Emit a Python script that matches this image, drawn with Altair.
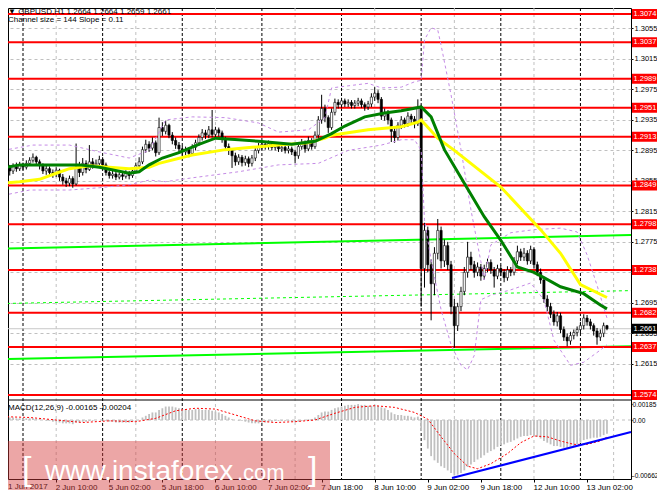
import altair as alt
import pandas as pd

# ---------------- data (hourly bars from 1 Jun 2017 18:00, index = bar number) ----------------
first_open = 1.2898
close = [
    1.2880, 1.2872, 1.2868, 1.2874, 1.2871, 1.2876, 1.2873, 1.2878, 1.2882, 1.2886,
    1.2880, 1.2875, 1.2868, 1.2871, 1.2866, 1.2864, 1.2869, 1.2860, 1.2855, 1.2852,
    1.2858, 1.2851, 1.2872, 1.2866, 1.2878, 1.2870, 1.2880, 1.2876, 1.2878, 1.2883,
    1.2876, 1.2866, 1.2862, 1.2864, 1.2860, 1.2863, 1.2861, 1.2865, 1.2862, 1.2868,
    1.2875, 1.2880, 1.2896, 1.2903, 1.2898, 1.2905, 1.2892, 1.2925, 1.2920, 1.2928,
    1.2915, 1.2908, 1.2902, 1.2897, 1.2893, 1.2896, 1.2891, 1.2899, 1.2905, 1.2912,
    1.2918, 1.2915, 1.2922, 1.2916, 1.2922, 1.2918, 1.2910, 1.2900, 1.2895, 1.2888,
    1.2880, 1.2886, 1.2879, 1.2884, 1.2878, 1.2885, 1.2895, 1.2900, 1.2903, 1.2900,
    1.2904, 1.2899, 1.2902, 1.2897, 1.2899, 1.2895, 1.2897, 1.2893, 1.2888, 1.2900,
    1.2905, 1.2897, 1.2908, 1.2900, 1.2915, 1.2935, 1.2950, 1.2938, 1.2925, 1.2945,
    1.2958, 1.2955, 1.2960, 1.2956, 1.2958, 1.2954, 1.2957, 1.2960, 1.2955, 1.2952,
    1.2956, 1.2965, 1.2970, 1.2962, 1.2940, 1.2945, 1.2935, 1.2920, 1.2912, 1.2928,
    1.2935, 1.2930, 1.2940, 1.2936, 1.2930, 1.2950, 1.2740, 1.2790, 1.2745, 1.2720,
    1.2760, 1.2790, 1.2750, 1.2770, 1.2745, 1.2690, 1.2665, 1.2690, 1.2710, 1.2735,
    1.2755, 1.2745, 1.2735, 1.2742, 1.2730, 1.2740, 1.2748, 1.2738, 1.2730, 1.2740,
    1.2735, 1.2728, 1.2738, 1.2735, 1.2750, 1.2762, 1.2755, 1.2760, 1.2750, 1.2765,
    1.2745, 1.2735, 1.2725, 1.2700, 1.2690, 1.2680, 1.2670, 1.2678, 1.2660, 1.2650,
    1.2645, 1.2652, 1.2656, 1.2660, 1.2665, 1.2675, 1.2670, 1.2665, 1.2658, 1.2650,
    1.2655, 1.2665, 1.2661,
]
high = [
    1.2915, 1.2884, 1.2876, 1.2878, 1.2879, 1.2880, 1.2879, 1.2882, 1.2886, 1.2891,
    1.2888, 1.2883, 1.2878, 1.2875, 1.2874, 1.2870, 1.2873, 1.2871, 1.2864, 1.2859,
    1.2862, 1.2861, 1.2904, 1.2880, 1.2885, 1.2882, 1.2902, 1.2885, 1.2883, 1.2888,
    1.2886, 1.2879, 1.2869, 1.2868, 1.2867, 1.2866, 1.2866, 1.2869, 1.2868, 1.2872,
    1.2879, 1.2886, 1.2900, 1.2909, 1.2907, 1.2912, 1.2908, 1.2938, 1.2932, 1.2934,
    1.2930, 1.2919, 1.2912, 1.2906, 1.2901, 1.2900, 1.2899, 1.2903, 1.2909, 1.2916,
    1.2923, 1.2922, 1.2927, 1.2948, 1.2926, 1.2925, 1.2921, 1.2913, 1.2904, 1.2898,
    1.2892, 1.2890, 1.2889, 1.2888, 1.2887, 1.2889, 1.2899, 1.2905, 1.2908, 1.2906,
    1.2908, 1.2907, 1.2906, 1.2905, 1.2903, 1.2902, 1.2901, 1.2900, 1.2896, 1.2904,
    1.2910, 1.2908, 1.2913, 1.2911, 1.2920, 1.2940, 1.2968, 1.2955, 1.2941, 1.2950,
    1.2963, 1.2962, 1.2964, 1.2963, 1.2962, 1.2961, 1.2961, 1.2964, 1.2963, 1.2958,
    1.2960, 1.2970, 1.2978, 1.2974, 1.2965, 1.2950, 1.2948, 1.2938, 1.2925, 1.2932,
    1.2940, 1.2938, 1.2945, 1.2943, 1.2940, 1.2962, 1.2955, 1.2800, 1.2795, 1.2752,
    1.2768, 1.2805, 1.2795, 1.2778, 1.2775, 1.2750, 1.2700, 1.2695, 1.2716, 1.2742,
    1.2775, 1.2762, 1.2750, 1.2748, 1.2746, 1.2745, 1.2753, 1.2752, 1.2742, 1.2745,
    1.2744, 1.2739, 1.2743, 1.2742, 1.2755, 1.2770, 1.2766, 1.2767, 1.2764, 1.2770,
    1.2768, 1.2749, 1.2740, 1.2729, 1.2705, 1.2695, 1.2685, 1.2683, 1.2682, 1.2664,
    1.2655, 1.2657, 1.2660, 1.2664, 1.2670, 1.2680, 1.2679, 1.2674, 1.2668, 1.2662,
    1.2660, 1.2669, 1.2666,
]
low = [
    1.2876, 1.2866, 1.2862, 1.2864, 1.2867, 1.2868, 1.2869, 1.2870, 1.2875, 1.2879,
    1.2876, 1.2870, 1.2864, 1.2863, 1.2861, 1.2859, 1.2860, 1.2855, 1.2850, 1.2847,
    1.2848, 1.2846, 1.2849, 1.2860, 1.2862, 1.2865, 1.2868, 1.2871, 1.2872, 1.2874,
    1.2870, 1.2862, 1.2858, 1.2858, 1.2856, 1.2857, 1.2856, 1.2858, 1.2857, 1.2859,
    1.2865, 1.2871, 1.2877, 1.2892, 1.2893, 1.2895, 1.2887, 1.2889, 1.2914, 1.2916,
    1.2911, 1.2903, 1.2897, 1.2892, 1.2888, 1.2889, 1.2886, 1.2888, 1.2895, 1.2901,
    1.2908, 1.2910, 1.2911, 1.2912, 1.2911, 1.2913, 1.2905, 1.2895, 1.2889, 1.2872,
    1.2875, 1.2876, 1.2874, 1.2875, 1.2873, 1.2874, 1.2881, 1.2891, 1.2896, 1.2896,
    1.2896, 1.2895, 1.2895, 1.2893, 1.2893, 1.2891, 1.2891, 1.2889, 1.2878, 1.2884,
    1.2896, 1.2892, 1.2894, 1.2896, 1.2897, 1.2911, 1.2930, 1.2932, 1.2918, 1.2922,
    1.2941, 1.2950, 1.2951, 1.2952, 1.2952, 1.2950, 1.2950, 1.2953, 1.2951, 1.2947,
    1.2948, 1.2952, 1.2960, 1.2957, 1.2935, 1.2934, 1.2929, 1.2906, 1.2905, 1.2908,
    1.2923, 1.2925, 1.2926, 1.2931, 1.2924, 1.2927, 1.2690, 1.2715, 1.2735, 1.2672,
    1.2705, 1.2752, 1.2740, 1.2742, 1.2738, 1.2680, 1.2636, 1.2658, 1.2684, 1.2705,
    1.2728, 1.2738, 1.2728, 1.2730, 1.2724, 1.2725, 1.2735, 1.2733, 1.2715, 1.2726,
    1.2730, 1.2722, 1.2724, 1.2730, 1.2731, 1.2746, 1.2750, 1.2750, 1.2745, 1.2746,
    1.2740, 1.2730, 1.2720, 1.2695, 1.2684, 1.2675, 1.2665, 1.2664, 1.2655, 1.2645,
    1.2638, 1.2640, 1.2647, 1.2651, 1.2655, 1.2660, 1.2665, 1.2660, 1.2652, 1.2640,
    1.2645, 1.2650, 1.2659,
]
macd = [
    0.0005, 0.0004, 0.0003, 0.0003, 0.0002, 0.0002, 0.0002, 0.0002, 0.0002, 0.0002,
    0.0001, 0.0001, 0.0000, -0.0001, -0.0001, -0.0002, -0.0002, -0.0003, -0.0004, -0.0004,
    -0.0004, -0.0005, -0.0003, -0.0003, -0.0002, -0.0002, -0.0001, -0.0001, 0.0000, 0.0000,
    0.0000, -0.0001, -0.0002, -0.0002, -0.0003, -0.0003, -0.0003, -0.0003, -0.0003, -0.0002,
    -0.0001, 0.0000, 0.0003, 0.0005, 0.0007, 0.0009, 0.0009, 0.0012, 0.0014, 0.0016,
    0.0016, 0.0016, 0.0015, 0.0014, 0.0013, 0.0013, 0.0012, 0.0012, 0.0013, 0.0013,
    0.0012, 0.0012, 0.0012, 0.0011, 0.0010, 0.0009, 0.0007, 0.0005, 0.0003, 0.0001,
    0.0000, -0.0001, -0.0001, -0.0002, -0.0003, -0.0004, -0.0004, -0.0004, -0.0003, -0.0003,
    -0.0002, -0.0002, -0.0001, -0.0001, -0.0001, -0.0001, -0.0001, -0.0002, -0.0002, -0.0002,
    -0.0001, 0.0000, 0.0001, 0.0001, 0.0003, 0.0006, 0.0009, 0.0010, 0.0010, 0.0012,
    0.0014, 0.0015, 0.0016, 0.0017, 0.0018, 0.0018, 0.0018, 0.0019, 0.0018, 0.0018,
    0.0017, 0.0017, 0.0018, 0.0017, 0.0015, 0.0014, 0.0012, 0.0009, 0.0007, 0.0006,
    0.0006, 0.0005, 0.0005, 0.0004, 0.0003, 0.0004, -0.0013, -0.0024, -0.0034, -0.0043,
    -0.0048, -0.0051, -0.0055, -0.0057, -0.0060, -0.0063, -0.0066, -0.0065, -0.0063, -0.0060,
    -0.0056, -0.0053, -0.0050, -0.0047, -0.0045, -0.0042, -0.0039, -0.0037, -0.0035, -0.0032,
    -0.0030, -0.0029, -0.0027, -0.0026, -0.0024, -0.0022, -0.0020, -0.0019, -0.0019, -0.0018,
    -0.0019, -0.0020, -0.0022, -0.0025, -0.0027, -0.0029, -0.0031, -0.0031, -0.0032, -0.0033,
    -0.0033, -0.0032, -0.0031, -0.0029, -0.0027, -0.0024, -0.0023, -0.0022, -0.0021, -0.0021,
    -0.0020, -0.0018, -0.00165,
]
signal_idx = [0, 8, 16, 24, 32, 40, 46, 52, 58, 64, 70, 76, 82, 88, 94, 100, 106, 112, 118,
              124, 128, 132, 136, 140, 143, 147, 152, 156, 160, 164, 168, 172, 176, 180, 182]
signal_val = [0.0004, 0.0003, 0.0000, -0.0003, -0.0001, -0.0002, 0.0002, 0.0011, 0.0014, 0.0013,
              0.0006, -0.0001, -0.0003, -0.0002, 0.0000, 0.0008, 0.0015, 0.0017, 0.0015,
              0.0009, 0.0001, -0.0020, -0.0040, -0.0055, -0.0058, -0.0052, -0.0040, -0.0027,
              -0.0019, -0.0020, -0.0025, -0.0029, -0.0029, -0.0025, -0.00204]
macd_trend_idx = [135.3, 189.24]
macd_trend_val = [-0.0069, -0.00143]

green_idx = [0, 5, 14, 23, 29, 38, 41, 44, 48, 53, 59, 64, 71, 77, 87, 94, 99, 103, 109, 115,
             120, 126, 129, 133, 139, 145, 150, 155, 160, 163, 168, 175, 180, 182]
green_val = [1.2872, 1.2876, 1.2876, 1.2876, 1.2873, 1.2865, 1.2867, 1.2876, 1.2885, 1.2892,
             1.2903, 1.2911, 1.2909, 1.2907, 1.2903, 1.2907, 1.2917, 1.2927, 1.2939, 1.2944,
             1.2947, 1.2952, 1.2939, 1.2896, 1.2852, 1.2808, 1.2777, 1.2742, 1.2735, 1.2728,
             1.2716, 1.2707, 1.2692, 1.2687]
yellow_idx = [0, 5, 11, 16, 20, 26, 32, 38, 44, 47, 57, 67, 75, 83, 92, 97, 99, 110, 120, 125,
              126, 131, 136, 150, 162, 168, 174, 182]
yellow_val = [1.2852, 1.2854, 1.2857, 1.2865, 1.2871, 1.2875, 1.2873, 1.2871, 1.2873, 1.2878,
              1.2889, 1.2896, 1.2899, 1.2902, 1.2905, 1.2911, 1.2915, 1.2922, 1.2926, 1.2932,
              1.2935, 1.2911, 1.2895, 1.2847, 1.2791, 1.2760, 1.2719, 1.2702]
upper_idx = [0, 9, 20, 29, 38, 44, 49, 57, 67, 77, 83, 92, 97, 99, 110, 114, 120, 124, 126,
             127, 129, 131, 132, 135, 138, 141, 144, 145, 147, 153, 160, 168, 173, 176, 179, 182]
upper_val = [1.2895, 1.2902, 1.2902, 1.2893, 1.2885, 1.2895, 1.2935, 1.2939, 1.2938, 1.2931,
             1.2919, 1.2922, 1.2938, 1.2977, 1.2983, 1.2977, 1.2978, 1.2985, 1.2987, 1.3040,
             1.3056, 1.3053, 1.3033, 1.2968, 1.2896, 1.2817, 1.2749, 1.2725, 1.2771, 1.2787,
             1.2791, 1.2793, 1.2788, 1.2758, 1.2718, 1.2675]
lower_idx = [0, 8, 20, 29, 38, 44, 49, 57, 71, 83, 95, 104, 114, 120, 124, 126, 127, 129, 132,
             135, 138, 140, 142, 144, 147, 153, 159, 163, 166, 171, 175, 180, 182]
lower_val = [1.2836, 1.2843, 1.2843, 1.2846, 1.2850, 1.2856, 1.2854, 1.2859, 1.2867, 1.2876,
             1.2878, 1.2895, 1.2902, 1.2909, 1.2909, 1.2895, 1.2804, 1.2751, 1.2686, 1.2640,
             1.2613, 1.2607, 1.2626, 1.2699, 1.2705, 1.2712, 1.2721, 1.2699, 1.2646, 1.2613,
             1.2617, 1.2633, 1.2640]

channel_idx = [-0.63, 189.24]
channel_upper = [1.2766, 1.2784]
channel_middle = [1.2694, 1.2711]
channel_lower = [1.2621, 1.2638]

levels = [1.3074, 1.3037, 1.2989, 1.2951, 1.2913, 1.2849, 1.2798, 1.2738, 1.2682, 1.2637, 1.2574]
current_price = 1.2661
price_ticks = [1.3055, 1.3015, 1.2975, 1.2935, 1.2895, 1.2855, 1.2815, 1.2775, 1.2735,
               1.2695, 1.2655, 1.2615]
macd_ticks = [0.00185, 0.0, -0.00662]
time_ticks = [0, 16, 32, 48, 64, 80, 96, 112, 128, 144, 160, 176]
time_labels = ["1 Jun 2017", "2 Jun 10:00", "5 Jun 02:00", "5 Jun 18:00", "6 Jun 10:00",
               "7 Jun 02:00", "7 Jun 18:00", "8 Jun 10:00", "9 Jun 02:00", "9 Jun 18:00",
               "12 Jun 10:00", "13 Jun 02:00"]
day_starts = [6, 30, 54, 78, 102, 126, 150, 174]
grid_bars = [16, 40, 64, 88, 112, 136, 160, 184]

title_text = "\u25bc GBPUSD,H1  1.2664 1.2664 1.2659 1.2661"
channel_text = "Channel size = 144 Slope = 0.11"
macd_text = "MACD(12,26,9) -0.00165 -0.00204"
wm_parts = ["[", "www.instaforex", ".com", "]"]

# ---------------- frames ----------------
n = len(close)
bars = pd.DataFrame({
    "i": list(range(n)),
    "open": [first_open] + close[:-1],
    "close": close, "high": high, "low": low, "macd": macd,
})
green_df = pd.DataFrame({"idx": green_idx, "val": green_val})
yellow_df = pd.DataFrame({"idx": yellow_idx, "val": yellow_val})
bands_df = pd.concat([
    pd.DataFrame({"idx": upper_idx, "val": upper_val, "k": "upper"}),
    pd.DataFrame({"idx": lower_idx, "val": lower_val, "k": "lower"}),
])
chan_solid = pd.concat([
    pd.DataFrame({"idx": channel_idx, "val": channel_upper, "k": "up"}),
    pd.DataFrame({"idx": channel_idx, "val": channel_lower, "k": "lo"}),
])
chan_mid = pd.DataFrame({"idx": channel_idx, "val": channel_middle})
levels_df = pd.DataFrame({"level": levels, "label": [f"{v:.4f}" for v in levels]})
cur_df = pd.DataFrame({"level": [current_price], "label": [f"{current_price:.4f}"]})
signal_df = pd.DataFrame({"idx": signal_idx, "val": signal_val})
trend_df = pd.DataFrame({"idx": macd_trend_idx, "val": macd_trend_val})

FONT = "Liberation Sans"
# plot area = page x 8..631, y 8..479 ; whole svg must stay within 649 px width
X_DOM = [1.477, 189.24]
P_DOM = [1.24638, 1.308187]
M_DOM = [-0.007021, 0.049028]
W, H = 623, 471

xscale = alt.Scale(domain=X_DOM, nice=False, zero=False, padding=0)
pscale = alt.Scale(domain=P_DOM, nice=False, zero=False, padding=0)
mscale = alt.Scale(domain=M_DOM, nice=False, zero=False, padding=0)

label_expr = "[" + ",".join(f"'{s}'" for s in time_labels) + "][round(datum.value/16)]"
x_axis = alt.Axis(values=time_ticks[1:], labelExpr=label_expr, orient="bottom", grid=False,
                  domain=False, tickSize=3, tickColor="black", labelAlign="left",
                  labelBaseline="top", labelPadding=1, labelOffset=-1, labelFont=FONT,
                  labelFontSize=8, labelColor="black", labelOverlap=False, labelBound=False,
                  labelFlush=False, title=None)
p_axis = alt.Axis(values=price_ticks, format=".4f", orient="right", grid=True,
                  gridColor="#c0c0c0", gridDash=[3, 3], gridWidth=1, domain=False,
                  tickSize=2, tickColor="black", labelPadding=1, labelFont=FONT,
                  labelFontSize=7.5, labelColor="black", labelOverlap=False, labelBound=False,
                  labelFlush=False, title=None)
m_axis = alt.Axis(values=macd_ticks, orient="right", grid=False, domain=False, tickSize=1,
                  tickColor="black", labelPadding=0, labelFont=FONT, labelFontSize=6.6,
                  labelColor="black", labelOverlap=False, labelBound=False, labelFlush=False,
                  title=None,
                  labelExpr="datum.value > 0.001 ? '0.00185' : (datum.value < -0.001 ? '-0.00662' : '0.00')")


def X(f):
    return alt.X(f"{f}:Q", scale=xscale, axis=x_axis)


def P(f):
    return alt.Y(f"{f}:Q", scale=pscale, axis=p_axis)


def M(f):
    return alt.Y(f"{f}:Q", scale=mscale, axis=m_axis)


def txt(s, x, y, baseline="middle", **kw):
    return alt.Chart(pd.DataFrame({"t": [s]})).mark_text(
        align="left", baseline=baseline, font=FONT, fontSize=8, color="black", **kw).encode(
        x=alt.value(x), y=alt.value(y), text="t:N")


# ---------------- price panel ----------------
vgrid = alt.Chart(pd.DataFrame({"i": grid_bars})).mark_rule(
    color="#c0c0c0", strokeDash=[3, 3], strokeWidth=1).encode(x=X("i"))
daysep = alt.Chart(pd.DataFrame({"i": day_starts})).mark_rule(
    color="black", strokeDash=[3, 2], strokeWidth=1).encode(x=X("i"))
chan1 = alt.Chart(chan_solid).mark_line(color="#00ff00", strokeWidth=2).encode(
    x=X("idx"), y=P("val"), detail="k:N")
chan2 = alt.Chart(chan_mid).mark_line(color="#00ff00", strokeWidth=1, strokeDash=[3, 3]).encode(
    x=X("idx"), y=P("val"))
cur_line = alt.Chart(cur_df).mark_rule(color="#c8c8c8", strokeWidth=1).encode(y=P("level"))
red_lines = alt.Chart(levels_df).mark_rule(color="#ff0000", strokeWidth=2).encode(y=P("level"))
wicks = alt.Chart(bars).mark_rule(color="black", strokeWidth=1).encode(
    x=X("i"), y=P("low"), y2="high:Q")
bodies = alt.Chart(bars).mark_bar(size=2.2, stroke="black", strokeWidth=0.6).encode(
    x=X("i"), y=P("open"), y2="close:Q",
    fill=alt.condition("datum.close >= datum.open", alt.value("white"), alt.value("black")))
bands = alt.Chart(bands_df).mark_line(color="#c58be6", strokeWidth=1, strokeDash=[3, 3]).encode(
    x=X("idx"), y=P("val"), detail="k:N")
yellow = alt.Chart(yellow_df).mark_line(color="#ffff00", strokeWidth=3).encode(
    x=X("idx"), y=P("val"))
green = alt.Chart(green_df).mark_line(color="#008000", strokeWidth=3).encode(
    x=X("idx"), y=P("val"))

lab_rect = alt.Chart(levels_df).mark_rect(color="#ff0000", yOffset=-5, y2Offset=5).encode(
    x=alt.value(624), x2=alt.value(660), y=P("level"), y2="level:Q")
lab_text = alt.Chart(levels_df).mark_text(
    align="left", baseline="middle", font=FONT, fontSize=7.5, color="white").encode(
    x=alt.value(625.5), y=P("level"), text="label:N")
cur_rect = alt.Chart(cur_df).mark_rect(color="black", yOffset=-5, y2Offset=5).encode(
    x=alt.value(624), x2=alt.value(660), y=P("level"), y2="level:Q")
cur_text = alt.Chart(cur_df).mark_text(
    align="left", baseline="middle", font=FONT, fontSize=7.5, color="white").encode(
    x=alt.value(625.5), y=P("level"), text="label:N")

title1 = txt(title_text, 0, 4)
title2 = txt(channel_text, 0, 11.5)
first_label = txt(time_labels[0], 0, H + 4, baseline="top")

price = alt.layer(vgrid, daysep, chan1, chan2, cur_line, red_lines, wicks, bodies, bands,
                  yellow, green, lab_rect, lab_text, cur_rect, cur_text, title1, title2,
                  first_label)

# ---------------- MACD panel ----------------
zero_line = alt.Chart(pd.DataFrame({"z": [0.0]})).mark_rule(
    color="#c0c0c0", strokeDash=[3, 3]).encode(y=M("z"))
hist = alt.Chart(bars).mark_bar(size=1.8, color="#c0c0c0").encode(
    x=X("i"), y=M("macd"), y2=alt.datum(0))
signal = alt.Chart(signal_df).mark_line(color="#ff0000", strokeWidth=1, strokeDash=[2, 2]).encode(
    x=X("idx"), y=M("val"))
trend = alt.Chart(trend_df).mark_line(color="#0000ff", strokeWidth=2).encode(
    x=X("idx"), y=M("val"))
mtext = txt(macd_text, 0, 400)
sep = alt.Chart(pd.DataFrame({"t": [0]})).mark_rule(color="black", strokeWidth=1).encode(
    x=alt.value(0), x2=alt.value(W), y=alt.value(392), y2=alt.value(392))

wm_rect = alt.Chart(pd.DataFrame({"t": [0]})).mark_rect(color="#d43a3a", opacity=0.45).encode(
    x=alt.value(-8), x2=alt.value(322), y=alt.value(433), y2=alt.value(495))
wm_df = pd.DataFrame({"t": wm_parts, "px": [14, 37, 229, 300], "fs": [34, 28, 22, 34]})
wm_text = alt.Chart(wm_df).mark_text(
    align="left", baseline="alphabetic", font=FONT, color="white").encode(
    x=alt.X("px:Q", scale=None), y=alt.value(472), text="t:N",
    size=alt.Size("fs:Q", scale=None, legend=None))

macdp = alt.layer(zero_line, hist, signal, trend, mtext, sep, wm_rect, wm_text)

chart = alt.layer(price, macdp).resolve_scale(y="independent").properties(
    width=W, height=H,
    padding={"left": 0, "top": 0, "right": 26, "bottom": 11},
    autosize=alt.AutoSizeParams(type="none"),
    background="white",
).configure_view(stroke="black", strokeWidth=1)

chart.save("out.html", embed_options={"renderer": "svg", "actions": False})
